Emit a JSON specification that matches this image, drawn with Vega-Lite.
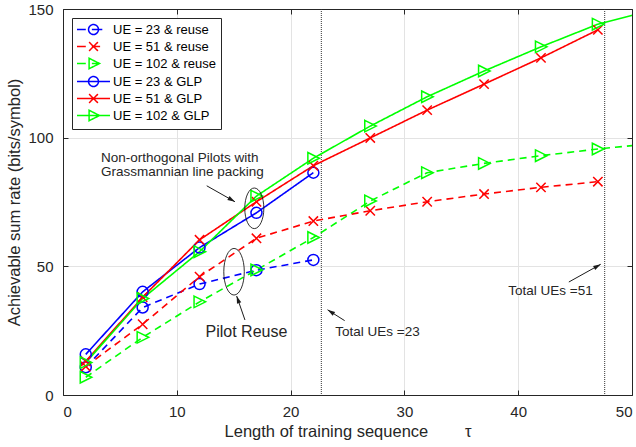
{
  "$schema": "https://vega.github.io/schema/vega-lite/v6.json",
  "width": 569,
  "height": 386,
  "autosize": "none",
  "padding": {"left": 63, "top": 9, "right": 4, "bottom": 52},
  "background": "white",
  "config": {"view": {"stroke": null}, "font": "Liberation Sans"},
  "datasets": {
    "series": [
      {"series": "UE = 23 & reuse", "ue": 23, "scheme": "reuse", "x": 2, "y": 10.8},
      {"series": "UE = 23 & reuse", "ue": 23, "scheme": "reuse", "x": 7, "y": 34.0},
      {"series": "UE = 23 & reuse", "ue": 23, "scheme": "reuse", "x": 12, "y": 43.1},
      {"series": "UE = 23 & reuse", "ue": 23, "scheme": "reuse", "x": 17, "y": 48.5},
      {"series": "UE = 23 & reuse", "ue": 23, "scheme": "reuse", "x": 22, "y": 52.5},
      {"series": "UE = 51 & reuse", "ue": 51, "scheme": "reuse", "x": 2, "y": 11.1},
      {"series": "UE = 51 & reuse", "ue": 51, "scheme": "reuse", "x": 7, "y": 27.5},
      {"series": "UE = 51 & reuse", "ue": 51, "scheme": "reuse", "x": 12, "y": 46.0},
      {"series": "UE = 51 & reuse", "ue": 51, "scheme": "reuse", "x": 17, "y": 60.9},
      {"series": "UE = 51 & reuse", "ue": 51, "scheme": "reuse", "x": 22, "y": 67.6},
      {"series": "UE = 51 & reuse", "ue": 51, "scheme": "reuse", "x": 27, "y": 71.6},
      {"series": "UE = 51 & reuse", "ue": 51, "scheme": "reuse", "x": 32, "y": 75.1},
      {"series": "UE = 51 & reuse", "ue": 51, "scheme": "reuse", "x": 37, "y": 78.1},
      {"series": "UE = 51 & reuse", "ue": 51, "scheme": "reuse", "x": 42, "y": 80.7},
      {"series": "UE = 51 & reuse", "ue": 51, "scheme": "reuse", "x": 47, "y": 82.9},
      {"series": "UE = 102 & reuse", "ue": 102, "scheme": "reuse", "x": 2, "y": 6.9},
      {"series": "UE = 102 & reuse", "ue": 102, "scheme": "reuse", "x": 7, "y": 22.4},
      {"series": "UE = 102 & reuse", "ue": 102, "scheme": "reuse", "x": 12, "y": 36.2},
      {"series": "UE = 102 & reuse", "ue": 102, "scheme": "reuse", "x": 17, "y": 48.6},
      {"series": "UE = 102 & reuse", "ue": 102, "scheme": "reuse", "x": 22, "y": 61.2},
      {"series": "UE = 102 & reuse", "ue": 102, "scheme": "reuse", "x": 27, "y": 75.4},
      {"series": "UE = 102 & reuse", "ue": 102, "scheme": "reuse", "x": 32, "y": 86.4},
      {"series": "UE = 102 & reuse", "ue": 102, "scheme": "reuse", "x": 37, "y": 90.0},
      {"series": "UE = 102 & reuse", "ue": 102, "scheme": "reuse", "x": 42, "y": 93.0},
      {"series": "UE = 102 & reuse", "ue": 102, "scheme": "reuse", "x": 47, "y": 95.6},
      {"series": "UE = 102 & reuse", "ue": 102, "scheme": "reuse", "x": 52, "y": 97.8},
      {"series": "UE = 23 & GLP", "ue": 23, "scheme": "GLP", "x": 2, "y": 15.8},
      {"series": "UE = 23 & GLP", "ue": 23, "scheme": "GLP", "x": 7, "y": 40.1},
      {"series": "UE = 23 & GLP", "ue": 23, "scheme": "GLP", "x": 12, "y": 57.3},
      {"series": "UE = 23 & GLP", "ue": 23, "scheme": "GLP", "x": 17, "y": 70.8},
      {"series": "UE = 23 & GLP", "ue": 23, "scheme": "GLP", "x": 22, "y": 86.4},
      {"series": "UE = 51 & GLP", "ue": 51, "scheme": "GLP", "x": 2, "y": 13.1},
      {"series": "UE = 51 & GLP", "ue": 51, "scheme": "GLP", "x": 7, "y": 38.0},
      {"series": "UE = 51 & GLP", "ue": 51, "scheme": "GLP", "x": 12, "y": 60.3},
      {"series": "UE = 51 & GLP", "ue": 51, "scheme": "GLP", "x": 17, "y": 75.1},
      {"series": "UE = 51 & GLP", "ue": 51, "scheme": "GLP", "x": 22, "y": 89.1},
      {"series": "UE = 51 & GLP", "ue": 51, "scheme": "GLP", "x": 27, "y": 99.9},
      {"series": "UE = 51 & GLP", "ue": 51, "scheme": "GLP", "x": 32, "y": 110.7},
      {"series": "UE = 51 & GLP", "ue": 51, "scheme": "GLP", "x": 37, "y": 120.8},
      {"series": "UE = 51 & GLP", "ue": 51, "scheme": "GLP", "x": 42, "y": 131.0},
      {"series": "UE = 51 & GLP", "ue": 51, "scheme": "GLP", "x": 47, "y": 141.9},
      {"series": "UE = 102 & GLP", "ue": 102, "scheme": "GLP", "x": 2, "y": 12.6},
      {"series": "UE = 102 & GLP", "ue": 102, "scheme": "GLP", "x": 7, "y": 37.5},
      {"series": "UE = 102 & GLP", "ue": 102, "scheme": "GLP", "x": 12, "y": 55.7},
      {"series": "UE = 102 & GLP", "ue": 102, "scheme": "GLP", "x": 17, "y": 77.3},
      {"series": "UE = 102 & GLP", "ue": 102, "scheme": "GLP", "x": 22, "y": 92.0},
      {"series": "UE = 102 & GLP", "ue": 102, "scheme": "GLP", "x": 27, "y": 104.5},
      {"series": "UE = 102 & GLP", "ue": 102, "scheme": "GLP", "x": 32, "y": 115.9},
      {"series": "UE = 102 & GLP", "ue": 102, "scheme": "GLP", "x": 37, "y": 125.9},
      {"series": "UE = 102 & GLP", "ue": 102, "scheme": "GLP", "x": 42, "y": 135.3},
      {"series": "UE = 102 & GLP", "ue": 102, "scheme": "GLP", "x": 47, "y": 144.1},
      {"series": "UE = 102 & GLP", "ue": 102, "scheme": "GLP", "x": 52, "y": 149.8}
    ],
    "vlines": [{"x": 22.7}, {"x": 47.6}],
    "notes": [
      {"text": "Non-orthogonal Pilots with", "x": 3.34, "y": 90.66},
      {"text": "Grassmannian line packing", "x": 3.34, "y": 85.2},
      {"text": "Total UEs =23", "x": 23.93, "y": 23.0},
      {"text": "Total UEs =51", "x": 39.13, "y": 38.7},
      {"text": "Pilot Reuse", "x": 16.12, "y": 22.66}
    ],
    "arrows": [
      {"x": 12.63, "y": 81.3, "x2": 15.11, "y2": 75.1, "angle": 119.5},
      {"x": 15.99, "y": 29.15, "x2": 15.26, "y2": 38.47, "angle": 340.9},
      {"x": 24.75, "y": 28.9, "x2": 23.25, "y2": 33.1, "angle": 302.3},
      {"x": 44.45, "y": 43.9, "x2": 47.25, "y2": 50.8, "angle": 60.8}
    ]
  },
  "layer": [
    {
      "data": {"values": [{}]},
      "mark": {"type": "point", "opacity": 0},
      "encoding": {
        "x": {"datum": 0, "type": "quantitative", "scale": {"domain": [0, 50], "nice": false},
          "axis": {"orient": "bottom", "values": [0, 10, 20, 30, 40, 50], "grid": true, "gridColor": "#e3e3e3", "tickSize": -5, "tickColor": "#262626", "domainColor": "#262626", "labelFontSize": 15, "labelColor": "#262626", "labelPadding": 14, "labelFont": "Liberation Sans", "title": "Length of training sequence\u00a0\u00a0\u00a0\u00a0\u00a0\u00a0\u00a0\u00a0τ", "titleFont": "Liberation Sans", "titleFontSize": 16.5, "titleFontWeight": "normal", "titleColor": "#262626", "titlePadding": 4}},
        "y": {"datum": 0, "type": "quantitative", "scale": {"domain": [0, 150], "nice": false},
          "axis": {"orient": "left", "values": [0, 50, 100, 150], "grid": true, "gridColor": "#e3e3e3", "tickSize": -5, "tickColor": "#262626", "domainColor": "#262626", "labelFontSize": 15, "labelColor": "#262626", "labelPadding": 15, "labelFont": "Liberation Sans", "title": "Achievable sum rate (bits/symbol)", "titleFont": "Liberation Sans", "titleFontSize": 16.5, "titleFontWeight": "normal", "titleColor": "#262626", "titlePadding": 5}}
      }
    },
    {
      "data": {"values": [{}]},
      "mark": {"type": "point", "opacity": 0},
      "encoding": {
        "x": {"datum": 0, "type": "quantitative", "scale": {"domain": [0, 50], "nice": false},
          "axis": {"orient": "top", "values": [0, 10, 20, 30, 40, 50], "grid": false, "labels": false, "tickSize": -5, "tickColor": "#262626", "domainColor": "#262626", "title": null}},
        "y": {"datum": 0, "type": "quantitative", "scale": {"domain": [0, 150], "nice": false},
          "axis": {"orient": "right", "values": [0, 50, 100, 150], "grid": false, "labels": false, "tickSize": -5, "tickColor": "#262626", "domainColor": "#262626", "title": null}}
      }
    },
    {
      "data": {"name": "vlines"},
      "mark": {"type": "rule", "color": "#333333", "strokeWidth": 1, "strokeDash": [1, 1]},
      "encoding": {
        "x": {"field": "x", "type": "quantitative", "scale": {"domain": [0, 50], "nice": false}, "axis": null}
      }
    },
    {
      "data": {"name": "series"},
      "mark": {"type": "line", "strokeWidth": 1.6, "clip": true},
      "encoding": {
        "x": {"field": "x", "type": "quantitative", "scale": {"domain": [0, 50], "nice": false}, "axis": null},
        "y": {"field": "y", "type": "quantitative", "scale": {"domain": [0, 150], "nice": false}, "axis": null},
        "color": {"field": "series", "type": "nominal",
          "scale": {"domain": ["UE = 23 & reuse", "UE = 51 & reuse", "UE = 102 & reuse", "UE = 23 & GLP", "UE = 51 & GLP", "UE = 102 & GLP"], "range": ["#0000ff", "#ff0000", "#00ff00", "#0000ff", "#ff0000", "#00ff00"]},
          "legend": {"orient": "none", "legendX": 9, "legendY": 9, "title": null, "symbolSize": 121, "symbolStrokeWidth": 1.5, "symbolOffset": 10, "labelOffset": 13, "labelFontSize": 13, "labelFont": "Liberation Sans", "labelColor": "#000000", "padding": 5, "rowPadding": 1, "strokeColor": "#262626", "fillColor": "white",
            "labelExpr": "datum.label + '\u00a0\u00a0\u00a0\u00a0\u00a0\u00a0\u00a0\u00a0\u00a0\u00a0'",
            "encode": {
              "symbols": {"update": {"fill": {"value": "transparent"}, "strokeWidth": {"value": 1.5}, "strokeDash": {"value": [1, 0]},
                "shape": {"signal": "datum.value === 'UE = 23 & reuse' ? 'M-3,0H-1.4M-0.3,0H1.6M0.9,0A0.9,0.9 0 1,1 -0.9,0A0.9,0.9 0 1,1 0.9,0' : datum.value === 'UE = 51 & reuse' ? 'M-3,0H-1.4M-0.3,0H1.2M-0.8,-0.8L0.8,0.8M-0.8,0.8L0.8,-0.8' : datum.value === 'UE = 102 & reuse' ? 'M-3,0H-1.4M-0.3,0H1.2M-0.8,-0.95L1.1,0L-0.8,0.95Z' : datum.value === 'UE = 23 & GLP' ? 'M-3,0H3M0.9,0A0.9,0.9 0 1,1 -0.9,0A0.9,0.9 0 1,1 0.9,0' : datum.value === 'UE = 51 & GLP' ? 'M-3,0H3M-0.8,-0.8L0.8,0.8M-0.8,0.8L0.8,-0.8' : 'M-3,0H3M-0.8,-0.95L1.1,0L-0.8,0.95Z'"}}}
            }
          }
        },
        "strokeDash": {"field": "scheme", "type": "nominal",
          "scale": {"domain": ["reuse", "GLP"], "range": [[7, 5], [1, 0]]},
          "legend": null}
      }
    },
    {
      "data": {"name": "series"},
      "mark": {"type": "point", "filled": false, "strokeWidth": 1.5, "size": 121, "opacity": 1, "clip": true},
      "encoding": {
        "x": {"field": "x", "type": "quantitative", "scale": {"domain": [0, 50], "nice": false}, "axis": null},
        "y": {"field": "y", "type": "quantitative", "scale": {"domain": [0, 150], "nice": false}, "axis": null},
        "color": {"field": "series", "type": "nominal", "legend": null},
        "shape": {"field": "ue", "type": "nominal",
          "scale": {"domain": [23, 51, 102], "range": ["circle", "M-0.85,-0.85L0.85,0.85M-0.85,0.85L0.85,-0.85", "M-1,-1.05L1.1,0L-1,1.05Z"]},
          "legend": null}
      }
    },
    {
      "data": {"name": "arrows"},
      "mark": {"type": "rule", "color": "#1a1a1a", "strokeWidth": 1},
      "encoding": {
        "x": {"field": "x", "type": "quantitative", "scale": {"domain": [0, 50], "nice": false}, "axis": null},
        "y": {"field": "y", "type": "quantitative", "scale": {"domain": [0, 150], "nice": false}, "axis": null},
        "x2": {"field": "x2"},
        "y2": {"field": "y2"}
      }
    },
    {
      "data": {"name": "arrows"},
      "mark": {"type": "point", "filled": true, "color": "#1a1a1a", "opacity": 1, "size": 100, "strokeWidth": 0, "shape": "M0,0L0.45,1.5L-0.45,1.5Z"},
      "encoding": {
        "x": {"field": "x2", "type": "quantitative", "scale": {"domain": [0, 50], "nice": false}, "axis": null},
        "y": {"field": "y2", "type": "quantitative", "scale": {"domain": [0, 150], "nice": false}, "axis": null},
        "angle": {"field": "angle", "type": "quantitative", "scale": null}
      }
    },
    {
      "data": {"values": [{}]},
      "mark": {"type": "point", "filled": false, "color": "#1a1a1a", "opacity": 1, "strokeWidth": 0.9, "size": 1648, "shape": "M0,-1A0.47,1 0 1,1 0,1A0.47,1 0 1,1 0,-1Z"},
      "encoding": {
        "x": {"datum": 16.81, "type": "quantitative", "scale": {"domain": [0, 50], "nice": false}, "axis": null},
        "y": {"datum": 72.55, "type": "quantitative", "scale": {"domain": [0, 150], "nice": false}, "axis": null}
      }
    },
    {
      "data": {"values": [{}]},
      "mark": {"type": "point", "filled": false, "color": "#1a1a1a", "opacity": 1, "strokeWidth": 0.9, "size": 2172, "shape": "M0,-1A0.44,1 0 1,1 0,1A0.44,1 0 1,1 0,-1Z"},
      "encoding": {
        "x": {"datum": 15.03, "type": "quantitative", "scale": {"domain": [0, 50], "nice": false}, "axis": null},
        "y": {"datum": 47.9, "type": "quantitative", "scale": {"domain": [0, 150], "nice": false}, "axis": null}
      }
    },
    {
      "data": {"name": "notes"},
      "transform": [{"filter": "datum.text !== 'Pilot Reuse'"}],
      "mark": {"type": "text", "align": "left", "baseline": "alphabetic", "fontSize": 13.5, "font": "Liberation Sans", "color": "#262626"},
      "encoding": {
        "x": {"field": "x", "type": "quantitative", "scale": {"domain": [0, 50], "nice": false}, "axis": null},
        "y": {"field": "y", "type": "quantitative", "scale": {"domain": [0, 150], "nice": false}, "axis": null},
        "text": {"field": "text"}
      }
    },
    {
      "data": {"name": "notes"},
      "transform": [{"filter": "datum.text === 'Pilot Reuse'"}],
      "mark": {"type": "text", "align": "center", "baseline": "alphabetic", "fontSize": 16, "font": "Liberation Sans", "color": "#262626"},
      "encoding": {
        "x": {"field": "x", "type": "quantitative", "scale": {"domain": [0, 50], "nice": false}, "axis": null},
        "y": {"field": "y", "type": "quantitative", "scale": {"domain": [0, 150], "nice": false}, "axis": null},
        "text": {"field": "text"}
      }
    }
  ]
}
